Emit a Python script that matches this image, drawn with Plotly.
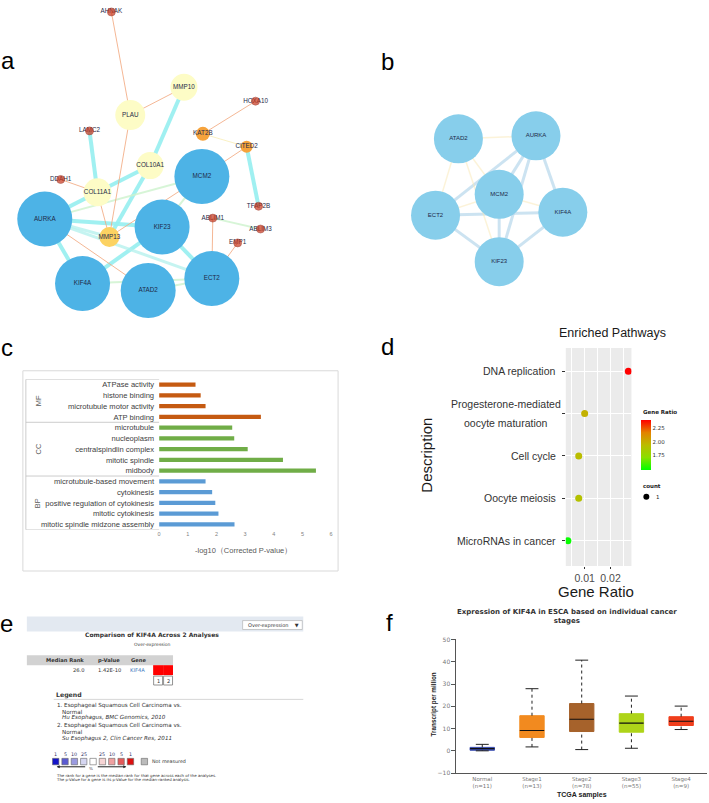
import plotly.graph_objects as go

W, H = 709, 803
def X(p): return p / W
def Y(p): return 1 - p / H

SANS = "Liberation Sans, Arial, sans-serif"
DEJ = "DejaVu Sans, Verdana, sans-serif"

# ---------------- Panel a : PPI network ----------------
a_nodes = ["AHNAK", "MMP10", "PLAU", "HOXA10", "LAMC2", "KAT2B", "CITED2", "COL10A1", "MCM2", "DDAH1",
           "COL11A1", "AURKA", "TFAP2B", "ABLIM1", "ABLIM3", "EMP1", "KIF23", "MMP13", "KIF4A", "ATAD2", "ECT2"]
a_x = [110, 183, 129, 255, 88, 202, 246, 149, 201, 59, 96, 43, 258, 212, 260, 237, 161, 108, 81, 147, 211]
a_y = [8, 84, 112, 98, 128, 131, 144, 163, 174, 177, 190, 217, 204, 216, 227, 241, 225, 235, 282, 289, 277]
a_size = [8, 27, 30, 8, 8, 14, 12, 27, 55, 8, 28, 55, 8, 8, 8, 8, 55, 20, 55, 55, 55]
a_group = ["dot", "pale", "pale", "dot", "dot", "orange", "orange", "pale", "hub", "dot",
           "pale", "hub", "dot", "dot", "dot", "dot", "hub", "gold", "hub", "hub", "hub"]
a_edges = [
    ("AHNAK", "PLAU", "orange"), ("PLAU", "MMP10", "orange"), ("PLAU", "MMP13", "orange"),
    ("MMP10", "COL10A1", "cyan"), ("LAMC2", "COL11A1", "cyan"), ("DDAH1", "COL11A1", "orange"),
    ("COL11A1", "COL10A1", "cyan"), ("AURKA", "COL11A1", "cyan"), ("COL10A1", "MMP13", "cyan"),
    ("COL11A1", "MMP13", "orange"), ("AURKA", "MCM2", "green"), ("AURKA", "KIF23", "cyan"),
    ("AURKA", "MMP13", "cyanl"), ("AURKA", "ECT2", "cyanl"), ("AURKA", "ATAD2", "orange"),
    ("AURKA", "KIF4A", "cyan"), ("KIF4A", "KIF23", "cyan"), ("KIF4A", "ECT2", "green"),
    ("ATAD2", "ECT2", "green"), ("KIF23", "ECT2", "cyan"), ("MCM2", "KIF23", "green"),
    ("MCM2", "MMP13", "orange"), ("MCM2", "CITED2", "orange"), ("KAT2B", "HOXA10", "orange"),
    ("KAT2B", "CITED2", "yellow"), ("CITED2", "TFAP2B", "cyan"), ("ABLIM1", "ECT2", "orange"),
    ("ABLIM1", "ABLIM3", "green"), ("EMP1", "ECT2", "orange"),
]

# ---------------- Panel b : hub-gene network ----------------
b_nodes = ["ATAD2", "AURKA", "MCM2", "ECT2", "KIF4A", "KIF23"]
b_x = [459, 537, 500, 436, 564, 500]
b_y = [136, 133, 192, 213, 210, 260]
b_edges = [
    ("AURKA", "MCM2", "blue"), ("AURKA", "KIF23", "blue"), ("AURKA", "KIF4A", "blue"),
    ("AURKA", "ECT2", "blue"), ("ECT2", "KIF23", "blue"), ("KIF4A", "KIF23", "blue"),
    ("MCM2", "KIF23", "blue"), ("ECT2", "KIF4A", "blue"),
    ("ATAD2", "AURKA", "yellow"), ("ATAD2", "ECT2", "yellow"), ("ATAD2", "MCM2", "yellow"),
    ("ATAD2", "KIF23", "yellow"), ("ECT2", "MCM2", "yellow"), ("MCM2", "KIF4A", "yellow"),
]

# ---------------- Panel c : GO enrichment ----------------
mf_terms = ["ATPase activity", "histone binding", "microtubule motor activity", "ATP binding"]
mf_vals = [1.27, 1.45, 1.62, 3.55]
cc_terms = ["microtubule", "nucleoplasm", "centralspindlin complex", "mitotic spindle", "midbody"]
cc_vals = [2.55, 2.62, 3.09, 4.32, 5.47]
bp_terms = ["microtubule-based movement", "cytokinesis", "positive regulation of cytokinesis",
            "mitotic cytokinesis", "mitotic spindle midzone assembly"]
bp_vals = [1.62, 1.85, 1.96, 2.07, 2.63]
go_ticks = [0, 1, 2, 3, 4, 5, 6]

# ---------------- Panel d : KEGG pathways ----------------
pathways = ["DNA replication", "Progesterone-mediated\noocyte maturation", "Cell cycle",
            "Oocyte meiosis", "MicroRNAs in cancer"]
pathway_ratio = [0.0269, 0.0100, 0.0077, 0.0077, 0.0035]
pathway_color = [2.40, 1.98, 1.93, 1.90, 1.48]
pathway_rank = [5, 4, 3, 2, 1]

# ---------------- Panel e : Oncomine ----------------
e_header = ["Median Rank", "p-Value", "Gene"]
e_row = ["26.0", "1.42E-10", "KIF4A"]
e_cells = ["#FF0000", "#FF0000"]
e_legend = [
    ("1. Esophageal Squamous Cell Carcinoma vs.", False), ("    Normal", False),
    ("    Hu Esophagus, BMC Genomics, 2010", True),
    ("2. Esophageal Squamous Cell Carcinoma vs.", False), ("    Normal", False),
    ("    Su Esophagus 2, Clin Cancer Res, 2011", True),
]
e_scale_labels = ["1", "5", "10", "25", "", "25", "10", "5", "1"]
e_scale_colors = ["#1414C8", "#5A5AD2", "#9A9AE0", "#D6D6F0", "#FFFFFF",
                  "#F6D4D4", "#EFA0A0", "#E35A5A", "#DC1010"]

# ---------------- Panel f : GEPIA stage plot ----------------
stages = ["Normal<br>(n=11)", "Stage1<br>(n=13)", "Stage2<br>(n=78)", "Stage3<br>(n=55)", "Stage4<br>(n=9)"]
f_low = [0.05, 1.8, 0.6, 1.2, 9.6]
f_q1 = [0.3, 6.05, 8.7, 8.4, 11.4]
f_median = [1.0, 9.15, 14.2, 12.5, 13.3]
f_q3 = [1.6, 15.8, 21.25, 16.7, 15.35]
f_high = [2.95, 27.9, 40.7, 24.6, 20.1]
f_colors = ["#3A4DB0", "#F28A1F", "#A6622B", "#AED419", "#F03E1C"]
f_yticks = [-10, 0, 10, 20, 30, 40, 50]

fig = go.Figure()
anns = []
shapes = []

def ann(text, x, y, size, color="#000000", family=SANS, xanchor="center", yanchor="middle", **kw):
    d = dict(text=text, x=X(x), y=Y(y), xref="paper", yref="paper", showarrow=False,
             font=dict(size=size, color=color, family=family), xanchor=xanchor, yanchor=yanchor)
    d.update(kw)
    anns.append(d)

# ===== Panel a =====
a_idx = {n: i for i, n in enumerate(a_nodes)}
a_style = {"cyan": ("rgba(150,238,240,0.9)", 4), "cyanl": ("rgba(178,240,236,0.75)", 3),
           "green": ("rgba(205,242,205,0.8)", 2), "orange": ("rgba(242,170,130,0.85)", 1),
           "yellow": ("rgba(248,236,180,0.8)", 1)}
for et, (col, wd) in a_style.items():
    ex, ey = [], []
    for s, t, k in a_edges:
        if k == et:
            ex += [a_x[a_idx[s]], a_x[a_idx[t]], None]
            ey += [a_y[a_idx[s]], a_y[a_idx[t]], None]
    fig.add_trace(go.Scatter(x=ex, y=ey, mode="lines", line=dict(color=col, width=wd),
                             hoverinfo="skip", xaxis="x", yaxis="y"))
a_colors = {"hub": "#4DB3E6", "pale": "#FDFCC6", "gold": "#FCD262", "orange": "#F6A33C", "dot": "#C8361C"}
big = [i for i, g in enumerate(a_group) if g != "dot"]
small = [i for i, g in enumerate(a_group) if g == "dot"]
fig.add_trace(go.Scatter(x=[a_x[i] for i in big], y=[a_y[i] for i in big], mode="markers",
                         marker=dict(size=[a_size[i] for i in big], color=[a_colors[a_group[i]] for i in big],
                                     line=dict(width=0), opacity=1),
                         xaxis="x", yaxis="y", hoverinfo="skip"))
fig.add_trace(go.Scatter(x=a_x, y=a_y, mode="text", text=a_nodes,
                         textfont=dict(size=6.3, color="#1E2A48", family=SANS), xaxis="x", yaxis="y"))
fig.add_trace(go.Scatter(x=[a_x[i] for i in small], y=[a_y[i] for i in small], mode="markers",
                         marker=dict(size=[a_size[i] for i in small], color=a_colors["dot"],
                                     line=dict(width=0.6, color="#8A1A0A")),
                         xaxis="x", yaxis="y", hoverinfo="skip"))

# ===== Panel b =====
b_idx = {n: i for i, n in enumerate(b_nodes)}
b_style = {"blue": ("rgba(170,208,232,0.6)", 3), "yellow": ("rgba(250,232,180,0.5)", 1.5)}
for et, (col, wd) in b_style.items():
    ex, ey = [], []
    for s, t, k in b_edges:
        if k == et:
            ex += [b_x[b_idx[s]], b_x[b_idx[t]], None]
            ey += [b_y[b_idx[s]], b_y[b_idx[t]], None]
    fig.add_trace(go.Scatter(x=ex, y=ey, mode="lines", line=dict(color=col, width=wd),
                             hoverinfo="skip", xaxis="x2", yaxis="y2"))
fig.add_trace(go.Scatter(x=b_x, y=b_y, mode="markers+text", text=b_nodes,
                         marker=dict(size=49, color="#87CEEB", line=dict(width=0)),
                         textfont=dict(size=6, color="#1E2A48", family=SANS),
                         xaxis="x2", yaxis="y2", hoverinfo="skip"))

# ===== Panel c =====
all_terms = mf_terms + cc_terms + bp_terms
for terms, vals, col in [(mf_terms, mf_vals, "#C55A11"), (cc_terms, cc_vals, "#70AD47"),
                         (bp_terms, bp_vals, "#5B9BD5")]:
    fig.add_trace(go.Bar(x=vals, y=terms, orientation="h", marker=dict(color=col, line=dict(width=0)),
                         width=0.4, xaxis="x3", yaxis="y3", hoverinfo="skip"))
shapes.append(dict(type="rect", xref="paper", yref="paper", x0=X(21), x1=X(338), y0=Y(572), y1=Y(370),
                   line=dict(color="#D9D9D9", width=1)))
n_mf, n_cc, n_bp = len(mf_terms), len(cc_terms), len(bp_terms)
for b in [-0.5, n_mf - 0.5, n_mf + n_cc - 0.5, n_mf + n_cc + n_bp - 0.5]:
    shapes.append(dict(type="line", xref="paper", yref="y3", x0=X(24), x1=X(158), y0=b, y1=b,
                       line=dict(color="#BFBFBF", width=0.8)))
shapes.append(dict(type="line", xref="paper", yref="y3", x0=X(24), x1=X(24), y0=-0.5,
                   y1=n_mf + n_cc + n_bp - 0.5, line=dict(color="#BFBFBF", width=0.8)))
for name, a0, a1 in [("MF", 0, n_mf - 1), ("CC", n_mf, n_mf + n_cc - 1),
                     ("BP", n_mf + n_cc, n_mf + n_cc + n_bp - 1)]:
    anns.append(dict(text=name, x=X(30), y=(a0 + a1) / 2, xref="paper", yref="y3", showarrow=False,
                     textangle=-90, font=dict(size=7.5, color="#595959", family=SANS)))
ann("-log10（Corrected P-value）", 243, 551, 7.5, "#595959")

# ===== Panel d =====
shapes.append(dict(type="rect", xref="x4 domain", yref="y4 domain", x0=0, x1=1, y0=0, y1=1,
                   fillcolor="#EBEBEB", line=dict(width=0), layer="below"))
fig.add_trace(go.Scatter(
    x=pathway_ratio, y=pathway_rank, mode="markers", xaxis="x4", yaxis="y4", hoverinfo="skip",
    marker=dict(size=7, color=pathway_color, cmin=1.47, cmax=2.40,
                colorscale=[[0, "#00FF00"], [0.25, "#8ADF00"], [0.5, "#BBBC00"], [0.75, "#E38200"], [1, "#FF0000"]],
                showscale=True,
                colorbar=dict(x=X(643), xanchor="left", y=Y(445), yanchor="middle", len=50, lenmode="pixels",
                              thickness=10, thicknessmode="pixels", xpad=0, ypad=0, outlinewidth=0,
                              tickvals=[1.75, 2.0, 2.25], ticktext=["1.75", "2.00", "2.25"], ticks="",
                              tickfont=dict(size=5.5, color="#333333", family=DEJ)))))
for lab, r in zip(pathways, pathway_rank):
    lines = lab.split("\n")
    if len(lines) == 1:
        anns.append(dict(text=lab, x=X(559), y=r, xref="paper", yref="y4", showarrow=False, xanchor="right",
                         font=dict(size=10.5, color="#333333", family=SANS)))
    else:
        for k, ln in enumerate(lines):
            anns.append(dict(text=ln, x=X(507), y=r, xref="paper", yref="y4", showarrow=False,
                             xanchor="center", yshift=9.5 - 19 * k,
                             font=dict(size=10.5, color="#333333", family=SANS)))
ann("Enriched Pathways", 614, 332, 12.5, "#1A1A1A")
ann("Gene Ratio", 597, 593, 15, "#1A1A1A")
ann("Description", 426, 455, 15, "#1A1A1A", textangle=-90)
ann("<b>Gene Ratio</b>", 643, 412, 5.5, "#222222", family=DEJ, xanchor="left")
ann("<b>count</b>", 643, 486, 5.5, "#222222", family=DEJ, xanchor="left")
shapes.append(dict(type="circle", xref="paper", yref="paper", x0=X(645), x1=X(651), y0=Y(500), y1=Y(494),
                   fillcolor="#000000", line=dict(width=0)))
ann("1", 656, 497, 5.5, "#222222", family=DEJ, xanchor="left")

# ===== Panel e =====
shapes.append(dict(type="rect", xref="paper", yref="paper", x0=X(25), x1=X(303), y0=Y(633), y1=Y(618),
                   fillcolor="#E3E9F1", line=dict(width=0)))
shapes.append(dict(type="rect", xref="paper", yref="paper", x0=X(242), x1=X(302), y0=Y(631), y1=Y(622),
                   fillcolor="#FFFFFF", line=dict(color="#AAAAAA", width=0.6)))
ann("Over-expression    ▼", 245, 626.5, 5, "#333333", family=DEJ, xanchor="left")
ann("<b>Comparison of KIF4A Across 2 Analyses</b>", 151, 637, 6, "#333333", family=DEJ)
ann("Over-expression", 151, 646, 4.5, "#444444", family=DEJ)
shapes.append(dict(type="rect", xref="paper", yref="paper", x0=X(25), x1=X(172), y0=Y(667), y1=Y(657),
                   fillcolor="#D2D2D2", line=dict(width=0)))
for txt, cx in zip(e_header, [63, 108, 137]):
    ann("<b>" + txt + "</b>", cx, 662, 5.2, "#333333", family=DEJ)
for txt, cx, col in zip(e_row, [77, 108, 136], ["#333333", "#333333", "#3A78C0"]):
    ann(txt, cx, 672, 5.2, col, family=DEJ)
for k, c in enumerate(e_cells):
    shapes.append(dict(type="rect", xref="paper", yref="paper", x0=X(152 + 10 * k), x1=X(162 + 10 * k),
                       y0=Y(677), y1=Y(667), fillcolor=c, line=dict(width=0)))
    shapes.append(dict(type="rect", xref="paper", yref="paper", x0=X(152.5 + 10 * k), x1=X(161.5 + 10 * k),
                       y0=Y(687), y1=Y(678), fillcolor="#FFFFFF", line=dict(color="#777777", width=0.8)))
    ann(str(k + 1), 157 + 10 * k, 682.5, 5, "#333333", family=DEJ)
ann("<b>Legend</b>", 52, 697, 6.2, "#333333", family=DEJ, xanchor="left")
shapes.append(dict(type="line", xref="paper", yref="paper", x0=X(52), x1=X(303), y0=Y(701.5), y1=Y(701.5),
                   line=dict(color="#CCCCCC", width=0.8)))
for (txt, ital), yy in zip(e_legend, [708, 714, 720, 728, 734, 741]):
    t = txt.strip()
    if ital:
        t = "<i>" + t + "</i>"
    indent = 53 if txt[0].isdigit() else 58
    ann(t, indent, yy, 5.6, "#333333", family=DEJ, xanchor="left")
for k, (lab, col) in enumerate(zip(e_scale_labels, e_scale_colors)):
    cx = 54 + 9.4 * k
    if lab:
        ann(lab, cx, 757, 4.8, "#333366", family=DEJ)
    shapes.append(dict(type="rect", xref="paper", yref="paper", x0=X(cx - 3.2), x1=X(cx + 3.2),
                       y0=Y(767.5), y1=Y(761), fillcolor=col, line=dict(color="#666666", width=0.6)))
shapes.append(dict(type="rect", xref="paper", yref="paper", x0=X(140), x1=X(146.4), y0=Y(767.5), y1=Y(761),
                   fillcolor="#BBBBBB", line=dict(color="#666666", width=0.6)))
ann("Not measured", 149, 764, 4.8, "#333333", family=DEJ, xanchor="left")
anns.append(dict(text="", x=X(55), y=Y(769.5), xref="paper", yref="paper", ax=30, ay=0, showarrow=True,
                 arrowhead=2, arrowsize=0.6, arrowwidth=1, arrowcolor="#222222"))
anns.append(dict(text="", x=X(125), y=Y(769.5), xref="paper", yref="paper", ax=-30, ay=0, showarrow=True,
                 arrowhead=2, arrowsize=0.6, arrowwidth=1, arrowcolor="#222222"))
ann("%", 90, 771, 4.2, "#333333", family=DEJ)
ann("The rank for a gene is the median rank for that gene across each of the analyses.", 52, 778, 3.9,
    "#333333", family=DEJ, xanchor="left")
ann("The p-Value for a gene is its p-Value for the median-ranked analysis.", 52, 782.5, 3.9,
    "#333333", family=DEJ, xanchor="left")

# ===== Panel f =====
for i in range(len(stages)):
    fig.add_trace(go.Box(x=[i], q1=[f_q1[i]], median=[f_median[i]], q3=[f_q3[i]],
                         lowerfence=[f_q1[i]], upperfence=[f_q3[i]], width=0.49, whiskerwidth=0,
                         fillcolor=f_colors[i], line=dict(color=f_colors[i], width=1),
                         boxpoints=False, xaxis="x5", yaxis="y5", hoverinfo="skip"))
wx, wy, cx_, cy_, mx, my = [], [], [], [], [], []
for i in range(len(stages)):
    wx += [i, i, None, i, i, None]
    wy += [f_q3[i], f_high[i], None, f_low[i], f_q1[i], None]
    cx_ += [i - 0.13, i + 0.13, None, i - 0.13, i + 0.13, None]
    cy_ += [f_high[i], f_high[i], None, f_low[i], f_low[i], None]
    mx += [i - 0.245, i + 0.245, None]
    my += [f_median[i], f_median[i], None]
fig.add_trace(go.Scatter(x=wx, y=wy, mode="lines", line=dict(color="#222222", width=1, dash="dot"),
                         xaxis="x5", yaxis="y5", hoverinfo="skip"))
fig.add_trace(go.Scatter(x=cx_, y=cy_, mode="lines", line=dict(color="#222222", width=1),
                         xaxis="x5", yaxis="y5", hoverinfo="skip"))
fig.add_trace(go.Scatter(x=mx, y=my, mode="lines", line=dict(color="#111111", width=1.2),
                         xaxis="x5", yaxis="y5", hoverinfo="skip"))
ann("<b>Expression of KIF4A in ESCA based on individual cancer<br>stages</b>", 568, 618, 7, "#333333",
    family=DEJ)
ann("<b>Transcript per million</b>", 434, 707, 6.3, "#222222", textangle=-90)
ann("<b>TCGA samples</b>", 583, 798, 7, "#222222")

# ===== panel letters =====
for letter, lx, ly in [("a", 6, 57), ("b", 388, 58), ("c", 5, 347), ("d", 388, 346), ("e", 5, 625), ("f", 390, 624)]:
    ann(letter, lx, ly, 24, "#000000")

hid = dict(visible=False, fixedrange=True)
fig.update_layout(
    width=W, height=H, margin=dict(l=0, r=0, t=0, b=0), showlegend=False,
    paper_bgcolor="#FFFFFF", plot_bgcolor="rgba(0,0,0,0)",
    xaxis=dict(domain=[0, X(354)], range=[0, 354], anchor="y", **hid),
    yaxis=dict(domain=[Y(320), 1], range=[320, 0], anchor="x", **hid),
    xaxis2=dict(domain=[X(354), 1], range=[354, 709], anchor="y2", **hid),
    yaxis2=dict(domain=[Y(320), 1], range=[320, 0], anchor="x2", **hid),
    xaxis3=dict(domain=[X(158), X(331)], range=[0, 6], anchor="y3", tickvals=go_ticks,
                tickfont=dict(size=5.5, color="#7F7F7F", family=SANS), showgrid=False, zeroline=False,
                showline=False, ticks="", fixedrange=True),
    yaxis3=dict(domain=[Y(530.4), Y(378.6)], type="category", categoryorder="array", categoryarray=all_terms,
                range=[len(all_terms) - 0.5, -0.5], anchor="x3", tickfont=dict(size=7.6, color="#404040", family=SANS),
                showgrid=False, zeroline=False, showline=False, ticks="", ticklabelstandoff=4, fixedrange=True),
    xaxis4=dict(domain=[X(567), X(633)], range=[0.0027, 0.0281], anchor="y4", tickvals=[0.01, 0.02],
                ticktext=["0.01", "0.02"], tickfont=dict(size=10.5, color="#4D4D4D", family=SANS),
                showgrid=True, gridcolor="#FFFFFF", gridwidth=1.2, zeroline=False, showline=False,
                ticks="outside", ticklen=2, tickcolor="#333333",
                minor=dict(tickvals=[0.005, 0.015, 0.025], showgrid=True, gridcolor="#FFFFFF", gridwidth=0.6),
                fixedrange=True),
    yaxis4=dict(domain=[Y(567), Y(347)], range=[0.4, 5.55], anchor="x4", tickvals=pathway_rank,
                showticklabels=False, showgrid=True, gridcolor="#FFFFFF", gridwidth=1.2, zeroline=False,
                showline=False, ticks="outside", ticklen=3, tickcolor="#333333", fixedrange=True),
    xaxis5=dict(domain=[X(457), 1], range=[-0.52, 4.52], anchor="y5", tickvals=list(range(len(stages))),
                ticktext=stages, tickfont=dict(size=5.5, color="#777777", family=DEJ), showgrid=False,
                zeroline=False, showline=True, linecolor="#555555", linewidth=1, ticks="", fixedrange=True),
    yaxis5=dict(domain=[Y(776), Y(641)], range=[-10, 50], anchor="x5", tickvals=f_yticks,
                tickfont=dict(size=6, color="#777777", family=DEJ), showgrid=False, zeroline=False,
                showline=True, linecolor="#555555", linewidth=1, ticks="outside", ticklen=4,
                tickcolor="#555555", fixedrange=True),
    annotations=anns, shapes=shapes,
)

fig.write_html("out.html", config={"displayModeBar": False},
               post_script="document.body.style.margin='0px';")
